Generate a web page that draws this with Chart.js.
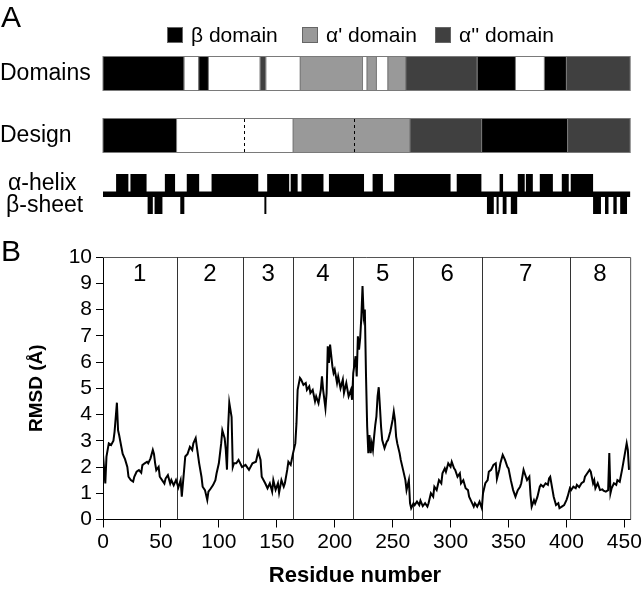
<!DOCTYPE html>
<html><head><meta charset="utf-8">
<script src="https://cdn.jsdelivr.net/npm/chart.js@4.4.0/dist/chart.umd.min.js"></script>
<style>html,body{margin:0;padding:0;background:#fff;}#wrap{position:relative;width:644px;height:591px;}</style>
</head><body><div id="wrap"><canvas id="c" width="644" height="591"></canvas></div>
<script>
// ---- data ----
const residues = [0,2,3,5,7,9,10,11,12,13,14,15,17,19,21,22,24,26,27,29,31,33,34,36,38,39,41,43,44,45,46,48,49,51,53,54,56,58,59,61,63,64,65,67,68,70,71,73,75,77,78,80,81,83,85,86,88,90,91,93,95,97,98,100,102,103,105,106,107,108,109,111,112,113,
115,117,120,123,126,129,132,134,136,137,140,142,144,146,147,149,151,152,154,156,157,159,160,162,164,166,167,168,170,171,173,175,176,178,179,181,183,184,186,188,189,190,192,193,194,195,196,198,199,200,202,203,205,207,208,210,212,214,215,216,218,219,220,221,222,223,224,225,226,227,
228,229,230,231,232,233,234,235,236,237,238,239,240,241,243,245,246,248,250,251,252,253,254,256,257,259,261,262,264,265,266,268,269,271,273,274,276,278,280,281,283,285,286,288,290,292,293,295,296,298,300,301,303,304,306,308,309,311,313,315,316,318,320,321,323,325,327,328,330,332,333,335,337,339,
340,342,343,345,347,349,350,352,354,356,358,360,361,363,365,366,368,369,370,372,373,375,377,378,380,382,384,385,386,388,389,391,393,394,396,398,400,401,403,404,406,408,409,411,413,415,416,418,420,421,423,424,425,427,429,431,432,434,436,437,438,439,441,443,444,446,448,449,451,452,453,454];
const rmsd = [2.45,1.37,2.4,2.9,2.84,3.0,3.35,3.9,4.45,3.4,3.2,2.96,2.5,2.3,2.0,1.63,1.5,1.44,1.63,1.82,1.88,1.78,2.07,2.14,2.2,2.14,2.33,2.65,2.5,2.14,1.88,2.0,1.63,1.5,1.37,1.56,1.69,1.37,1.5,1.3,1.5,1.37,1.22,1.5,0.87,1.88,2.4,2.5,2.77,2.65,2.9,3.1,2.77,2.14,1.63,1.25,1.12,0.74,1.06,1.18,1.31,1.5,1.75,2.14,2.9,3.4,3.1,2.65,1.9,3.5,4.45,3.9,2.0,2.14,
2.14,2.27,2.0,2.08,1.89,2.14,2.2,2.59,2.27,1.63,1.38,1.19,1.38,1.06,1.5,1.13,1.38,1.02,1.5,1.25,1.38,1.89,2.2,2.08,2.52,2.9,3.67,4.94,5.39,5.33,5.13,5.2,4.94,5.07,4.82,4.94,4.5,4.69,4.43,4.94,5.45,4.94,4.24,4.82,6.6,5.96,6.66,5.83,5.58,5.71,5.2,5.45,5.0,5.33,4.82,5.2,4.69,4.94,4.56,5.58,6.22,5.45,6.98,6.47,6.92,7.74,8.89,7.74,8.0,5.5,
3.55,2.53,3.22,2.53,2.9,2.65,3.16,3.6,3.93,4.69,5.04,4.31,3.54,3.03,2.72,2.97,3.03,3.35,3.8,4.11,3.8,3.16,2.9,2.53,2.27,1.89,1.5,1.12,1.5,0.62,0.43,0.62,0.55,0.68,0.55,0.72,0.51,0.62,0.49,0.62,1.0,0.87,1.25,1.12,1.5,1.38,1.76,1.95,1.82,2.14,2.01,2.2,1.95,1.89,1.63,1.76,1.38,1.5,1.19,1.12,0.87,0.68,0.49,0.62,0.49,0.68,0.43,1.0,1.38,1.5,1.82,1.89,2.08,2.14,
1.55,1.89,2.14,2.46,2.27,2.01,1.95,1.5,1.12,0.87,1.12,1.25,1.38,1.89,1.63,1.5,1.63,0.93,0.49,0.74,0.62,0.87,1.25,1.32,1.25,1.38,1.32,1.57,1.63,1.12,0.87,0.55,0.62,0.43,0.49,0.55,0.74,0.87,1.19,1.12,1.25,1.19,1.32,1.23,1.38,1.44,1.63,1.76,1.89,1.82,1.38,1.5,1.19,1.38,1.12,1.15,1.1,1.06,1.12,2.53,1.0,1.19,1.38,1.32,1.5,1.44,1.89,2.14,2.65,2.9,2.65,1.89];
const xTickValues = [0,50,100,150,200,250,300,350,400,450];
const yTickValues = [0,1,2,3,4,5,6,7,8,9,10];
const segmentBounds = [0,63.5,121,164.2,215.6,267.4,326.8,403,455];
const segmentLabels = ['1','2','3','4','5','6','7','8'];
const domainSegments = [[0,70,'beta'],[70,82.7,'none'],[82.7,91,'beta'],[91,135.7,'none'],[135.7,140.6,'a2'],[140.6,170.3,'none'],[170.3,224,'a1'],[224,228,'none'],[228,236,'a1'],[236,246,'none'],[246,261.4,'a1'],[261.4,323,'a2'],[323,356,'beta'],[356,381,'none'],[381,400,'beta'],[400,455,'a2']];
const designSegments = [[0,63.5,'beta'],[63.5,164.2,'none'],[164.2,265,'a1'],[265,326.8,'a2'],[326.8,401,'beta'],[401,455,'a2']];
const designDashes = [122,216.6];
const helixRanges = [[11.3,21.9],[23.7,37.6],[53.4,62.2],[72.3,83],[93.7,134],[141.7,160.7],[162,168],[171.3,190.3],[195,225.3],[232.7,241.6],[251.3,300],[305.3,326.6],[342.3,345.3],[358,364],[365,371],[377,388.3],[396,402],[403.7,423]];
const sheetRanges = [[38.5,43],[44.5,51.3],[66.7,70.2],[139.3,141],[331.4,337.3],[339.7,341.5],[345,348.3],[352,357.5],[423,429.8],[433.3,436.3],[440.5,443.4],[446.4,452.3]];
const legendItems = [['β domain','beta'],["α' domain",'a1'],["α'' domain",'a2']];
const colors = {beta:'#000000', a1:'#999999', a2:'#404040', none:'#ffffff'};

const FONT = 'Liberation Sans, Arial, sans-serif';

const panelPlugin = {
  id: 'panel',
  beforeDatasetsDraw(chart) {
    const {ctx, chartArea: ca, scales: {x}} = chart;
    const px = v => x.getPixelForValue(v);
    ctx.save();
    ctx.strokeStyle = '#555';
    ctx.lineWidth = 1;
    ctx.beginPath();
    ctx.moveTo(ca.left, ca.top + 0.5); ctx.lineTo(ca.right + 0.5, ca.top + 0.5); ctx.lineTo(ca.right + 0.5, ca.bottom);
    ctx.stroke();
    ctx.strokeStyle = '#333';
    for (let i = 1; i < segmentBounds.length - 1; i++) {
      const xx = Math.round(px(segmentBounds[i])) + 0.5;
      ctx.beginPath(); ctx.moveTo(xx, ca.top); ctx.lineTo(xx, ca.bottom); ctx.stroke();
    }
    ctx.fillStyle = '#000';
    ctx.font = '24px ' + FONT;
    ctx.textAlign = 'center'; ctx.textBaseline = 'middle';
    for (let i = 0; i < segmentLabels.length; i++) {
      const c = (px(segmentBounds[i]) + px(segmentBounds[i + 1])) / 2;
      ctx.fillText(segmentLabels[i], c, ca.top + 17);
    }
    ctx.restore();
  },
  afterDraw(chart) {
    const {ctx, scales: {x}} = chart;
    const px = v => x.getPixelForValue(v);
    ctx.save();
    ctx.fillStyle = '#000';
    ctx.textBaseline = 'alphabetic'; ctx.textAlign = 'left';
    ctx.font = '30px ' + FONT;
    ctx.fillText('A', 1, 27);
    ctx.fillText('B', 1, 261);
    ctx.font = '21px ' + FONT;
    ctx.textBaseline = 'middle';
    const legX = [167, 302, 435];
    legendItems.forEach((it, i) => {
      ctx.fillStyle = colors[it[1]];
      ctx.fillRect(legX[i], 27, 16, 16);
      ctx.strokeStyle = '#666'; ctx.lineWidth = 1;
      ctx.strokeRect(legX[i] + 0.5, 27.5, 15, 15);
      ctx.fillStyle = '#000';
      ctx.fillText(it[0], legX[i] + 24, 36);
    });
    ctx.font = '23px ' + FONT;
    ctx.fillText('Domains', 0, 74);
    ctx.fillText('Design', 0, 136);
    ctx.fillText('α-helix', 8, 184);
    ctx.fillText('β-sheet', 6, 206);
    const drawBar = (segs, y, h) => {
      segs.forEach(s => {
        const a = px(s[0]), b = px(s[1]);
        ctx.fillStyle = colors[s[2]];
        ctx.fillRect(a, y, b - a, h);
        ctx.strokeStyle = '#7a7a7a'; ctx.lineWidth = 1;
        ctx.strokeRect(a, y + 0.5, b - a, h - 1);
      });
    };
    drawBar(domainSegments, 56, 35);
    drawBar(designSegments, 118, 35);
    ctx.strokeStyle = '#000'; ctx.lineWidth = 1; ctx.setLineDash([3, 3]);
    designDashes.forEach(d => {
      const xx = Math.round(px(d)) + 0.5;
      ctx.beginPath(); ctx.moveTo(xx, 119); ctx.lineTo(xx, 152); ctx.stroke();
    });
    ctx.setLineDash([]);
    ctx.fillStyle = '#000';
    ctx.fillRect(px(0), 191.5, px(455) - px(0), 5.5);
    helixRanges.forEach(r => ctx.fillRect(px(r[0]), 174, px(r[1]) - px(r[0]), 18));
    sheetRanges.forEach(r => ctx.fillRect(px(r[0]), 196.5, px(r[1]) - px(r[0]), 17.5));
    ctx.font = 'bold 22px ' + FONT;
    ctx.textAlign = 'center'; ctx.textBaseline = 'alphabetic';
    ctx.fillText('Residue number', 355, 582);
    ctx.restore();
  }
};

new Chart(document.getElementById('c'), {
  type: 'line',
  data: {
    datasets: [{
      data: residues.map((r, i) => ({x: r, y: rmsd[i]})),
      borderColor: '#000', borderWidth: 2, pointRadius: 0, tension: 0, fill: false
    }]
  },
  options: {
    responsive: false, animation: false, devicePixelRatio: 1,
    layout: {padding: {top: 257, right: 11, left: 0, bottom: 0}},
    plugins: {legend: {display: false}, tooltip: {enabled: false}},
    scales: {
      x: {
        type: 'linear', min: 0, max: 455,
        afterBuildTicks: s => { s.ticks = xTickValues.map(v => ({value: v})); },
        ticks: {color: '#000', font: {size: 21, family: FONT}, padding: 2, maxRotation: 0, autoSkip: false},
        grid: {drawOnChartArea: false, tickLength: 8, color: '#000'},
        border: {color: '#000', width: 1},
        afterFit: s => { s.height = 71.5; }
      },
      y: {
        min: 0, max: 10,
        afterBuildTicks: s => { s.ticks = yTickValues.map(v => ({value: v})); },
        ticks: {color: '#000', font: {size: 21, family: FONT}, padding: 4, autoSkip: false},
        grid: {drawOnChartArea: false, tickLength: 7, color: '#000'},
        border: {color: '#000', width: 1},
        title: {display: true, text: 'RMSD (Å)', color: '#000', font: {size: 19, weight: 'bold', family: FONT}, padding: {top: 25, bottom: 0}},
        afterFit: s => { s.width = 103; }
      }
    }
  },
  plugins: [panelPlugin]
});
</script></body></html>
